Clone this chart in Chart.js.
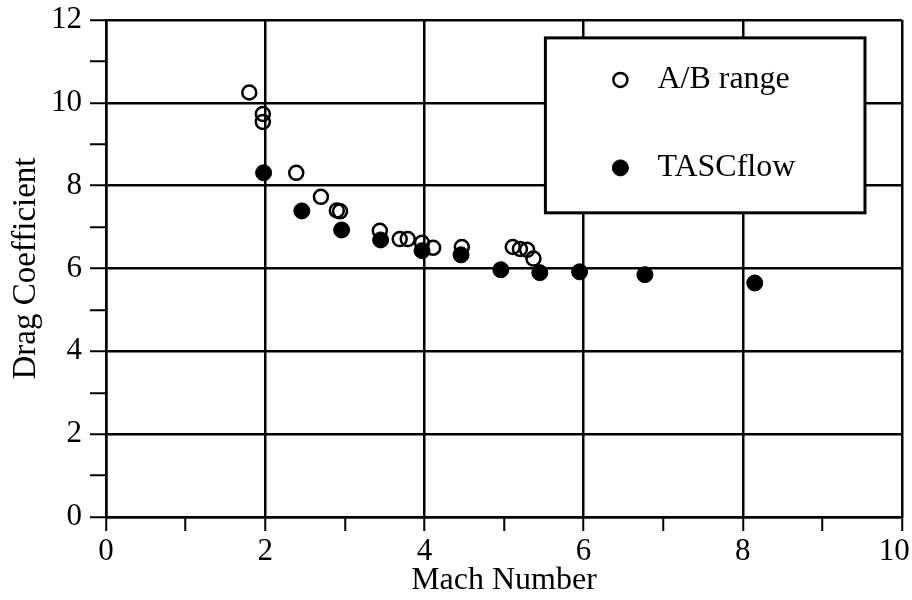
<!DOCTYPE html>
<html>
<head>
<meta charset="utf-8">
<script src="https://cdn.jsdelivr.net/npm/chart.js@4"></script>
<style>
  html, body { margin: 0; padding: 0; background: #fff; }
  #wrap { width: 912px; height: 600px; }
</style>
</head>
<body>
<div id="wrap"><canvas id="myChart" width="912" height="600"></canvas></div>
<script>
// Data
const abMach = [1.80, 1.97, 1.97, 2.39, 2.70, 2.90, 2.94, 3.44, 3.69, 3.79, 3.97, 4.11, 4.47, 5.11, 5.20, 5.29, 5.37];
const abDrag = [10.25, 9.73, 9.54, 8.31, 7.73, 7.40, 7.38, 6.91, 6.71, 6.71, 6.62, 6.50, 6.52, 6.52, 6.47, 6.45, 6.24];

const tascMach = [1.98, 2.46, 2.96, 3.45, 3.97, 4.46, 4.96, 5.45, 5.95, 6.77, 8.15];
const tascDrag = [8.31, 7.39, 6.93, 6.69, 6.43, 6.33, 5.97, 5.90, 5.92, 5.85, 5.65];

const xTicks = [0, 2, 4, 6, 8, 10];
const yTicks = [0, 2, 4, 6, 8, 10, 12];

const serif = "'Liberation Serif', 'DejaVu Serif', serif";

// Build point lists for the scatter chart
const toPoints = (xs, ys) => xs.map((x, i) => ({ x: x, y: ys[i] }));

// White page background
const whiteBg = {
  id: 'whiteBg',
  beforeDraw(chart) {
    const c = chart.ctx;
    c.save();
    c.fillStyle = '#fff';
    c.fillRect(0, 0, chart.width, chart.height);
    c.restore();
  }
};

// Boxed legend sitting inside the plot area, like the original figure
const boxLegend = {
  id: 'boxLegend',
  afterDatasetsDraw(chart) {
    const c = chart.ctx;
    const a = chart.chartArea;
    const w = a.right - a.left, h = a.bottom - a.top;
    const x0 = a.left + 0.552 * w, x1 = a.left + 0.9535 * w;
    const y0 = a.top + 0.036 * h, y1 = a.top + 0.388 * h;
    c.save();
    c.fillStyle = '#fff';
    c.fillRect(x0, y0, x1 - x0, y1 - y0);
    c.strokeStyle = '#000';
    c.lineWidth = 3;
    c.strokeRect(x0, y0, x1 - x0, y1 - y0);
    const sets = chart.data.datasets;
    const rows = [y0 + 0.24 * (y1 - y0), y0 + 0.743 * (y1 - y0)];
    sets.forEach((ds, i) => {
      const cy = rows[i];
      const cx = x0 + 75;
      c.beginPath();
      c.arc(cx, cy, ds.pointRadius, 0, Math.PI * 2);
      c.fillStyle = ds.backgroundColor;
      c.fill();
      c.lineWidth = ds.borderWidth;
      c.strokeStyle = ds.borderColor;
      c.stroke();
      c.fillStyle = '#000';
      c.font = '32px ' + serif;
      c.textBaseline = 'middle';
      c.textAlign = 'left';
      c.fillText(ds.label, cx + 37, cy);
    });
    c.restore();
  }
};

// Black grid at even values, minor ticks only at odd values
const gridColor = ctx => (ctx.tick && ctx.tick.value % 2 === 0) ? '#000' : 'rgba(0,0,0,0)';

const myChart = document.getElementById('myChart');

let scatterChart = new Chart(myChart, {
  type: 'scatter',
  data: {
    datasets: [
      {
        label: 'A/B range',
        data: toPoints(abMach, abDrag),
        pointRadius: 7,
        pointHoverRadius: 7,
        pointBorderWidth: 2.5,
        borderWidth: 2.5,
        backgroundColor: 'rgba(0,0,0,0)',
        borderColor: '#000',
        order: 1
      },
      {
        label: 'TASCflow',
        data: toPoints(tascMach, tascDrag),
        pointRadius: 8,
        pointHoverRadius: 8,
        pointBorderWidth: 1,
        borderWidth: 1,
        backgroundColor: '#000',
        borderColor: '#000',
        order: 0
      }
    ]
  },
  options: {
    responsive: false,
    animation: false,
    events: [],
    layout: { padding: { top: 20, right: 10, left: 0, bottom: 0 } },
    plugins: {
      legend: { display: false },
      tooltip: { enabled: false }
    },
    scales: {
      x: {
        type: 'linear',
        min: 0,
        max: 10,
        afterFit: s => { s.height = 83; s.paddingRight = 0; s.paddingLeft = 0; },
        grid: { color: gridColor, tickColor: '#000', lineWidth: 2.5, tickWidth: 2, tickLength: 14 },
        border: { color: '#000', width: 2.5 },
        ticks: {
          stepSize: 1,
          autoSkip: false,
          maxRotation: 0,
          color: '#000',
          padding: 2,
          font: { family: serif, size: 31 },
          // last label sits a little left of its tick in the original, keep it inside the page
          callback: v => xTicks.includes(v) ? (v === 10 ? '10\u2002' : String(v)) : ''
        },
        title: {
          display: true,
          text: 'Mach Number',
          color: '#000',
          padding: { top: 0, bottom: 0 },
          font: { family: serif, size: 32 }
        }
      },
      y: {
        type: 'linear',
        min: 0,
        max: 12,
        afterFit: s => { s.width = 106; s.paddingTop = 0; s.paddingBottom = 0; },
        grid: { color: gridColor, tickColor: '#000', lineWidth: 2.5, tickWidth: 2, tickLength: 16 },
        border: { color: '#000', width: 2.5 },
        ticks: {
          stepSize: 1,
          autoSkip: false,
          color: '#000',
          padding: 8,
          font: { family: serif, size: 31 },
          callback: v => yTicks.includes(v) ? String(v) : ''
        },
        title: {
          display: true,
          text: 'Drag Coefficient',
          color: '#000',
          padding: { top: 7, bottom: 0 },
          font: { family: serif, size: 33 }
        }
      }
    }
  },
  plugins: [whiteBg, boxLegend]
});
</script>
</body>
</html>
